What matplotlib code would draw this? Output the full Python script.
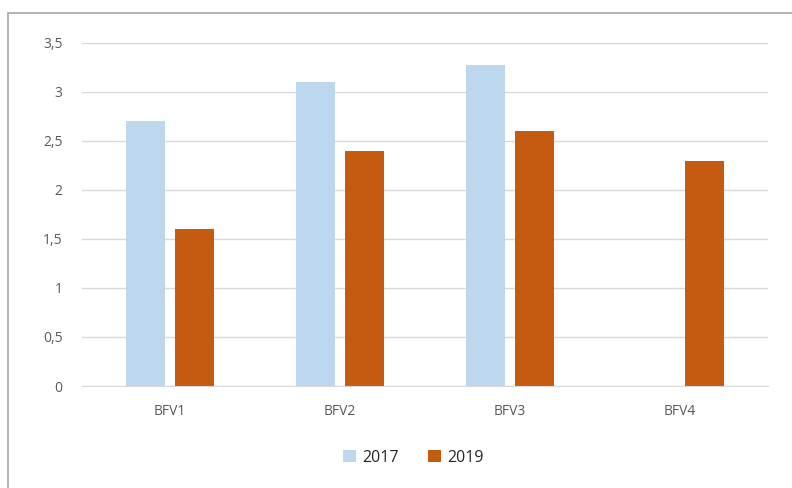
#!/usr/bin/env python3
"""Grouped bar chart BFV1-BFV4, 2017 vs 2019."""

import matplotlib
matplotlib.use("Agg")
import matplotlib.pyplot as plt
from matplotlib.patches import Rectangle
import numpy as np

CATEGORIES = ["BFV1", "BFV2", "BFV3", "BFV4"]
SERIES = ["2017", "2019"]
VALUES_2017 = [2.7, 3.1, 3.27, 0.0]
VALUES_2019 = [1.6, 2.4, 2.6, 2.3]
Y_TICKS = [0, 0.5, 1, 1.5, 2, 2.5, 3, 3.5]
Y_LABELS = ["0", "0,5", "1", "1,5", "2", "2,5", "3", "3,5"]

COLORS = ["#BDD7EE", "#C55A11"]
TEXT = "#595959"


def main():
    plt.rcParams["font.family"] = ["Open Sans", "DejaVu Sans"]
    fig = plt.figure(figsize=(7.92, 4.88), dpi=100)
    ax = fig.add_axes([0.1035, 0.209, 0.8665, 0.703])

    # outer chart frame
    fig.patches.append(Rectangle((8 / 792, -0.01), 1.0, 1 - 13 / 488 + 0.01,
                                 transform=fig.transFigure, fill=False,
                                 edgecolor="#A6A6A6", linewidth=1.2))

    x = np.arange(len(CATEGORIES))
    width = 0.23
    offset = 0.145
    ax.bar(x - offset, VALUES_2017, width, color=COLORS[0], label=SERIES[0], zorder=3)
    ax.bar(x + offset, VALUES_2019, width, color=COLORS[1], label=SERIES[1], zorder=3)

    ax.set_xlim(-0.52, 3.52)
    ax.set_ylim(0, 3.5)
    ax.set_yticks(Y_TICKS)
    ax.set_yticklabels(Y_LABELS)
    ax.set_xticks(x)
    ax.set_xticklabels(CATEGORIES)
    ax.tick_params(axis="both", length=0, labelsize=10, colors=TEXT)
    ax.tick_params(axis="y", pad=14)
    ax.tick_params(axis="x", pad=13)
    ax.yaxis.grid(True, color="#D9D9D9", linewidth=1, zorder=0)
    for side in ["top", "right", "left"]:
        ax.spines[side].set_visible(False)
    ax.spines["bottom"].set_color("#D9D9D9")
    ax.spines["bottom"].set_zorder(4)

    leg = fig.legend(loc="center", bbox_to_anchor=(0.522, 0.062), ncol=2,
                     frameon=False, fontsize=11.5, handlelength=0.8, handleheight=0.8,
                     handletextpad=0.4, columnspacing=1.8)
    for t in leg.get_texts():
        t.set_color("#262626")

    fig.savefig("out.png", dpi=100, facecolor="white")
    plt.close(fig)


if __name__ == "__main__":
    main()
